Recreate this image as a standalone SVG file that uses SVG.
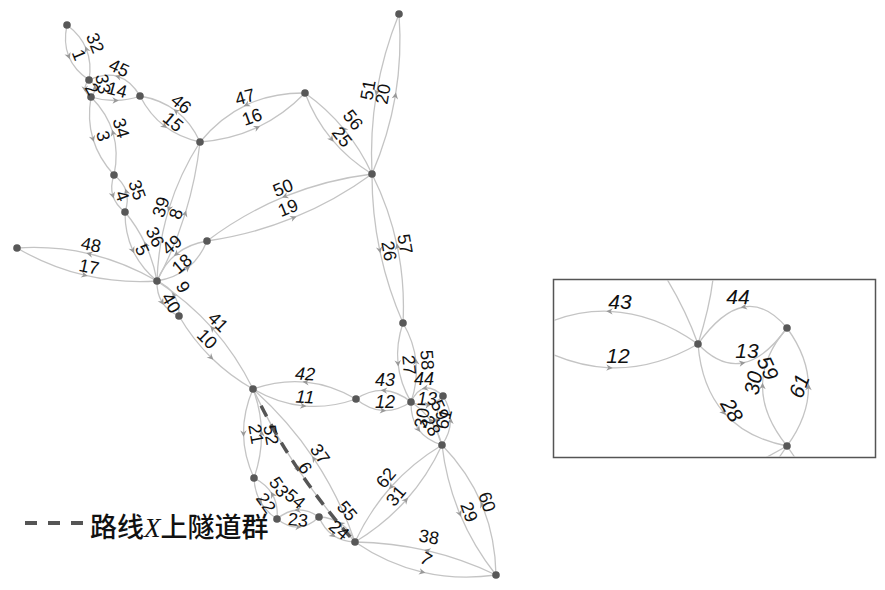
<svg xmlns="http://www.w3.org/2000/svg" width="885" height="590" viewBox="0 0 885 590">
<style>
.e{fill:none;stroke:#c4c4c4;stroke-width:1.3;marker-mid:url(#ah)}
.s{fill:none;stroke:#c4c4c4;stroke-width:1.3}
.n{fill:#585858}
.l{font-family:"Liberation Sans",Arial,sans-serif;font-size:18px;fill:#111;text-anchor:middle;dominant-baseline:central}
.il{font-family:"Liberation Sans",Arial,sans-serif;font-size:21px;fill:#111;text-anchor:middle;dominant-baseline:central;font-style:italic}
.i{font-style:italic}
.d{fill:none;stroke:#555;stroke-width:3.5;stroke-dasharray:12 9}
</style>
<defs>
<marker id="ah" viewBox="0 0 10 10" refX="5" refY="5" markerWidth="8" markerHeight="8" markerUnits="userSpaceOnUse" orient="auto">
<path d="M1,1 L9,5 L1,9 L3.5,5 z" fill="#999"/>
</marker>
<clipPath id="ic"><rect x="554" y="280" width="321" height="177"/></clipPath>
</defs>
<rect width="885" height="590" fill="#fff"/>
<g id="connectors">
<path class="e" d="M67,25 Q63.2,42.5 68.7,56.2 Q74.2,70 89,80"/>
<path class="e" d="M89,80 Q91.9,62.9 86.4,49.2 Q80.9,35.4 67,25"/>
<path class="e" d="M89,80 Q84.6,84.9 85,89.1 Q85.6,93.4 91,97"/>
<path class="e" d="M91,97 Q95.5,92.2 95,87.9 Q94.5,83.7 89,80"/>
<path class="e" d="M91,97 Q103.4,100.8 115.6,100.5 Q127.9,100.3 140,96"/>
<path class="e" d="M140,96 Q130.9,80.6 118.1,76.6 Q105.4,72.6 89,80"/>
<path class="e" d="M91,97 Q87.2,119.4 92.9,138.8 Q98.7,158.4 114,175"/>
<path class="e" d="M114,175 Q118.8,152.4 113,132.9 Q107.3,113.4 91,97"/>
<path class="e" d="M114,175 Q110.1,186.3 112.8,195.5 Q115.6,204.8 125,212"/>
<path class="e" d="M125,212 Q129,200.8 126.2,191.5 Q123.5,182.3 114,175"/>
<path class="e" d="M125,212 Q124.9,233.1 132.8,250.3 Q140.9,267.6 157,281"/>
<path class="e" d="M157,281 Q153.6,261.7 145.5,244.4 Q137.6,227.2 125,212"/>
<path class="e" d="M157,281 Q174.5,248.3 185.2,213.6 Q196,178.8 200,142"/>
<path class="e" d="M200,142 Q179.7,173.8 169,208.6 Q158.2,243.3 157,281"/>
<path class="e" d="M140,96 Q149.6,114.7 164.5,126.1 Q179.6,137.7 200,142"/>
<path class="e" d="M200,142 Q191.1,122.6 176.1,111.1 Q161.1,99.6 140,96"/>
<path class="e" d="M200,142 Q230.9,139.7 257.2,127.5 Q283.4,115.2 305,93"/>
<path class="e" d="M305,93 Q272.9,92.6 246.6,104.8 Q220.4,117.1 200,142"/>
<path class="e" d="M305,93 Q314.8,119 331.6,139.2 Q348.3,159.5 372,174"/>
<path class="e" d="M372,174 Q360.7,149.3 343.9,129.1 Q327.2,108.8 305,93"/>
<path class="e" d="M372,174 Q388.6,135.7 395.4,95.7 Q402.1,55.7 399,14"/>
<path class="e" d="M399,14 Q383.4,52.5 376.6,92.5 Q369.9,132.5 372,174"/>
<path class="e" d="M207,241 Q252.4,234.5 293.6,217.7 Q334.9,201 372,174"/>
<path class="e" d="M372,174 Q326.3,179.7 285,196.4 Q243.8,213.2 207,241"/>
<path class="e" d="M17,248 Q49.5,267 84.5,275.2 Q119.5,283.5 157,281"/>
<path class="e" d="M157,281 Q124.5,262.1 89.5,253.8 Q54.5,245.6 17,248"/>
<path class="e" d="M157,281 Q175.1,278.1 187.6,268.1 Q200.1,258.1 207,241"/>
<path class="e" d="M207,241 Q188.9,244 176.4,254 Q163.9,264 157,281"/>
<path class="e" d="M157,281 Q156.6,293.5 162.1,302.2 Q167.6,311 179,316"/>
<path class="e" d="M179,316 Q179.5,303.5 173.9,294.8 Q168.5,286 157,281"/>
<path class="e" d="M179,316 Q192.6,339.3 211.1,357.5 Q229.6,375.8 253,389"/>
<path class="e" d="M253,389 Q236.5,355.4 212.5,328.4 Q188.5,301.4 157,281"/>
<path class="e" d="M253,389 Q277.6,403.5 303.3,405.9 Q329.1,408.5 356,399"/>
<path class="e" d="M356,399 Q331.4,384.6 305.7,382.1 Q279.9,379.6 253,389"/>
<path class="e" d="M356,399 Q369.2,409.8 383,410.5 Q396.7,411.3 411,402"/>
<path class="e" d="M411,402 Q397.8,391.3 384,390.5 Q370.3,389.8 356,399"/>
<path class="e" d="M372,174 Q371.9,212.9 379.7,250.1 Q387.4,287.4 403,323"/>
<path class="e" d="M403,323 Q405.1,283.7 397.3,246.5 Q389.6,209.2 372,174"/>
<path class="e" d="M403,323 Q396,343.7 398,363.4 Q400,383.2 411,402"/>
<path class="e" d="M411,402 Q418,381.4 416,361.6 Q414,341.9 403,323"/>
<path class="e" d="M411,402 Q420.1,406.4 428.1,404.9 Q436.1,403.4 443,396"/>
<path class="e" d="M443,396 Q433,386.7 425,388.2 Q417,389.7 411,402"/>
<path class="e" d="M411,402 Q410.7,418.6 418.4,429.4 Q426.2,440.1 442,445"/>
<path class="e" d="M442,445 Q438.3,431.3 430.6,420.6 Q422.8,409.8 411,402"/>
<path class="e" d="M443,396 Q436.8,408.2 436.5,420.4 Q436.3,432.7 442,445"/>
<path class="e" d="M442,445 Q450.3,432.9 450.5,420.7 Q450.8,408.4 443,396"/>
<path class="e" d="M442,445 Q446.3,481.4 459.8,513.8 Q473.3,546.4 496,575"/>
<path class="e" d="M496,575 Q495.4,537.1 481.9,504.6 Q468.4,472.1 442,445"/>
<path class="e" d="M355,542 Q384.2,524.5 405.9,500.2 Q427.7,476 442,445"/>
<path class="e" d="M442,445 Q412.8,462.6 391.1,486.8 Q369.3,511.1 355,542"/>
<path class="e" d="M355,542 Q387.1,563.9 422.3,572.1 Q457.6,580.4 496,575"/>
<path class="e" d="M496,575 Q462.6,559 427.3,550.7 Q392.1,542.5 355,542"/>
<path class="e" d="M253,389 Q272.7,431.2 298.2,469.4 Q323.7,507.7 355,542"/>
<path class="e" d="M355,542 Q339.5,497.1 314,458.8 Q288.5,420.6 253,389"/>
<path class="e" d="M253,389 Q243.3,411.4 243.5,433.6 Q243.8,455.9 254,478"/>
<path class="e" d="M254,478 Q261.8,455.7 261.5,433.4 Q261.3,411.2 253,389"/>
<path class="e" d="M254,478 Q254.5,491.2 260.3,501.4 Q266,511.7 277,519"/>
<path class="e" d="M277,519 Q278.3,504.9 272.5,494.6 Q266.8,484.4 254,478"/>
<path class="e" d="M277,519 Q288,527.5 298.4,527 Q309,526.5 319,517"/>
<path class="e" d="M319,517 Q308.1,509.5 297.6,510 Q287.1,510.5 277,519"/>
<path class="e" d="M319,517 Q324,529 333,535.3 Q342,541.5 355,542"/>
<path class="e" d="M355,542 Q350,530 341,523.8 Q332,517.5 319,517"/>
<path class="d" d="M261.1,405.7 Q277.8,438.8 298.2,469.4 Q323.7,507.7 353,540"/>
</g>
<g id="nodes">
<g id="nA"><circle class="n" cx="67" cy="25" r="3.8"/></g>
<g id="nB"><circle class="n" cx="89" cy="80" r="3.8"/></g>
<g id="nC"><circle class="n" cx="91" cy="97" r="3.8"/></g>
<g id="nD"><circle class="n" cx="140" cy="96" r="3.8"/></g>
<g id="nE"><circle class="n" cx="200" cy="142" r="3.8"/></g>
<g id="nF"><circle class="n" cx="305" cy="93" r="3.8"/></g>
<g id="nG"><circle class="n" cx="399" cy="14" r="3.8"/></g>
<g id="nH"><circle class="n" cx="372" cy="174" r="3.8"/></g>
<g id="nI"><circle class="n" cx="114" cy="175" r="3.8"/></g>
<g id="nJ"><circle class="n" cx="125" cy="212" r="3.8"/></g>
<g id="nK"><circle class="n" cx="17" cy="248" r="3.8"/></g>
<g id="nL"><circle class="n" cx="207" cy="241" r="3.8"/></g>
<g id="nM"><circle class="n" cx="157" cy="281" r="3.8"/></g>
<g id="nN"><circle class="n" cx="179" cy="316" r="3.8"/></g>
<g id="nO"><circle class="n" cx="253" cy="389" r="3.8"/></g>
<g id="nP"><circle class="n" cx="356" cy="399" r="3.8"/></g>
<g id="nQ"><circle class="n" cx="403" cy="323" r="3.8"/></g>
<g id="nR"><circle class="n" cx="411" cy="402" r="3.8"/></g>
<g id="nS"><circle class="n" cx="443" cy="396" r="3.8"/></g>
<g id="nT"><circle class="n" cx="442" cy="445" r="3.8"/></g>
<g id="nU"><circle class="n" cx="254" cy="478" r="3.8"/></g>
<g id="nV"><circle class="n" cx="277" cy="519" r="3.8"/></g>
<g id="nW"><circle class="n" cx="319" cy="517" r="3.8"/></g>
<g id="nX"><circle class="n" cx="355" cy="542" r="3.8"/></g>
<g id="nY"><circle class="n" cx="496" cy="575" r="3.8"/></g>
</g>
<g id="edge-labels">
<text class="l" transform="translate(95,43) rotate(68)">32</text>
<text class="l" transform="translate(79,55) rotate(68)">1</text>
<text class="l" transform="translate(119,68) rotate(25)">45</text>
<text class="l" transform="translate(92,89) rotate(60)">2</text>
<text class="l" transform="translate(103,84) rotate(80)">33</text>
<text class="l" transform="translate(117,90) rotate(15)">14</text>
<text class="l" transform="translate(181,104) rotate(40)">46</text>
<text class="l" transform="translate(173,122) rotate(40)">15</text>
<text class="l" transform="translate(245,97) rotate(-15)">47</text>
<text class="l" transform="translate(252,117) rotate(-20)">16</text>
<text class="l" transform="translate(353,120) rotate(52)">56</text>
<text class="l" transform="translate(342,137) rotate(52)">25</text>
<text class="l" transform="translate(368,90) rotate(-80)">51</text>
<text class="l" transform="translate(383,94) rotate(-80)">20</text>
<text class="l" transform="translate(121,128) rotate(75)">34</text>
<text class="l" transform="translate(103,136) rotate(75)">3</text>
<text class="l" transform="translate(137,190) rotate(70)">35</text>
<text class="l" transform="translate(122,196) rotate(70)">4</text>
<text class="l" transform="translate(161,207) rotate(-72)">39</text>
<text class="l" transform="translate(176,214) rotate(-72)">8</text>
<text class="l" transform="translate(155,237) rotate(65)">36</text>
<text class="l" transform="translate(142,250) rotate(65)">5</text>
<text class="l" transform="translate(172,245) rotate(-40)">49</text>
<text class="l" transform="translate(182,264) rotate(-40)">18</text>
<text class="l" transform="translate(91,245) rotate(12)">48</text>
<text class="l" transform="translate(89,267) rotate(12)">17</text>
<text class="l" transform="translate(283,188) rotate(-22)">50</text>
<text class="l" transform="translate(288,208) rotate(-22)">19</text>
<text class="l" transform="translate(183,287) rotate(60)">9</text>
<text class="l" transform="translate(171,303) rotate(60)">40</text>
<text class="l" transform="translate(218,322) rotate(45)">41</text>
<text class="l" transform="translate(207,339) rotate(45)">10</text>
<text class="l i" transform="translate(305,374) rotate(3)">42</text>
<text class="l i" transform="translate(305,397) rotate(3)">11</text>
<text class="l i" transform="translate(385,380)">43</text>
<text class="l i" transform="translate(385,402)">12</text>
<text class="l" transform="translate(405,244) rotate(80)">57</text>
<text class="l" transform="translate(389,251) rotate(80)">26</text>
<text class="l" transform="translate(427,360) rotate(85)">58</text>
<text class="l" transform="translate(409,365) rotate(85)">27</text>
<text class="l i" transform="translate(424,379)">44</text>
<text class="l i" transform="translate(427,399)">13</text>
<text class="l" transform="translate(440,410) rotate(65)">59</text>
<text class="l" transform="translate(422,418) rotate(-80)">30</text>
<text class="l" transform="translate(431,426) rotate(60)">28</text>
<text class="l" transform="translate(444,419) rotate(-75)">61</text>
<text class="l" transform="translate(271,435) rotate(80)">52</text>
<text class="l" transform="translate(256,434) rotate(80)">21</text>
<text class="l" transform="translate(320,454) rotate(55)">37</text>
<text class="l" transform="translate(305,468) rotate(55)">6</text>
<text class="l" transform="translate(279,487) rotate(55)">53</text>
<text class="l" transform="translate(295,499) rotate(40)">54</text>
<text class="l" transform="translate(266,503) rotate(55)">22</text>
<text class="l" transform="translate(298,520) rotate(5)">23</text>
<text class="l" transform="translate(347,511) rotate(50)">55</text>
<text class="l" transform="translate(339,530) rotate(40)">24</text>
<text class="l" transform="translate(386,478) rotate(-50)">62</text>
<text class="l" transform="translate(396,496) rotate(-50)">31</text>
<text class="l" transform="translate(487,502) rotate(70)">60</text>
<text class="l" transform="translate(469,512) rotate(70)">29</text>
<text class="l" transform="translate(429,537) rotate(10)">38</text>
<text class="l" transform="translate(426,559) rotate(30)">7</text>
</g>
<g id="inset">
<rect x="553.5" y="279.5" width="322" height="178" fill="#fff" stroke="#555" stroke-width="1.5"/>
<g clip-path="url(#ic)">
<path class="e" d="M698,344 Q654,313 609.5,311.3 Q565,309.5 520,337"/>
<path class="e" d="M520,337 Q565,366 609.5,367.8 Q654,369.5 698,344"/>
<path class="s" d="M698,344 Q684,305 660,268"/>
<path class="s" d="M698,344 Q712,300 714,268"/>
<path class="e" d="M787,328 Q766,303 743.8,307 Q721.5,311 698,344"/>
<path class="e" d="M698,344 Q720,367 742.3,363 Q764.5,359 787,328"/>
<path class="e" d="M787,446 Q808.5,416.5 808.5,387 Q808.5,357.5 787,328"/>
<path class="e" d="M787,446 Q762.5,415.5 762.5,386 Q762.5,356.5 787,328"/>
<path class="e" d="M698,344 Q701.5,387 723.8,412.5 Q746,438 787,446"/>
<path class="s" d="M787,446 L758,462"/>
<path class="s" d="M787,446 L776,462"/>
<path class="s" d="M787,446 L798,462"/>
</g>
<circle class="n" cx="698" cy="344" r="3.8"/>
<circle class="n" cx="787" cy="328" r="3.8"/>
<circle class="n" cx="787" cy="446" r="3.8"/>
<text class="il" x="620" y="301">43</text>
<text class="il" x="618" y="355">12</text>
<text class="il" x="738" y="296">44</text>
<text class="il" x="747" y="350">13</text>
<text class="il" transform="translate(768,368) rotate(65)">59</text>
<text class="il" transform="translate(753,383) rotate(-80)">30</text>
<text class="il" transform="translate(732,410) rotate(60)">28</text>
<text class="il" transform="translate(799,386) rotate(-70)">61</text>
</g>
<g id="legend">
<path d="M25,523 H84" fill="none" stroke="#555" stroke-width="4" stroke-dasharray="12 11"/>
<text x="90" y="537" font-family="'Noto Sans CJK SC',sans-serif" font-size="27" font-weight="500" fill="#111">路线<tspan font-family="'Liberation Serif',serif" font-style="italic" font-weight="normal">X</tspan>上隧道群</text>
</g>
</svg>
